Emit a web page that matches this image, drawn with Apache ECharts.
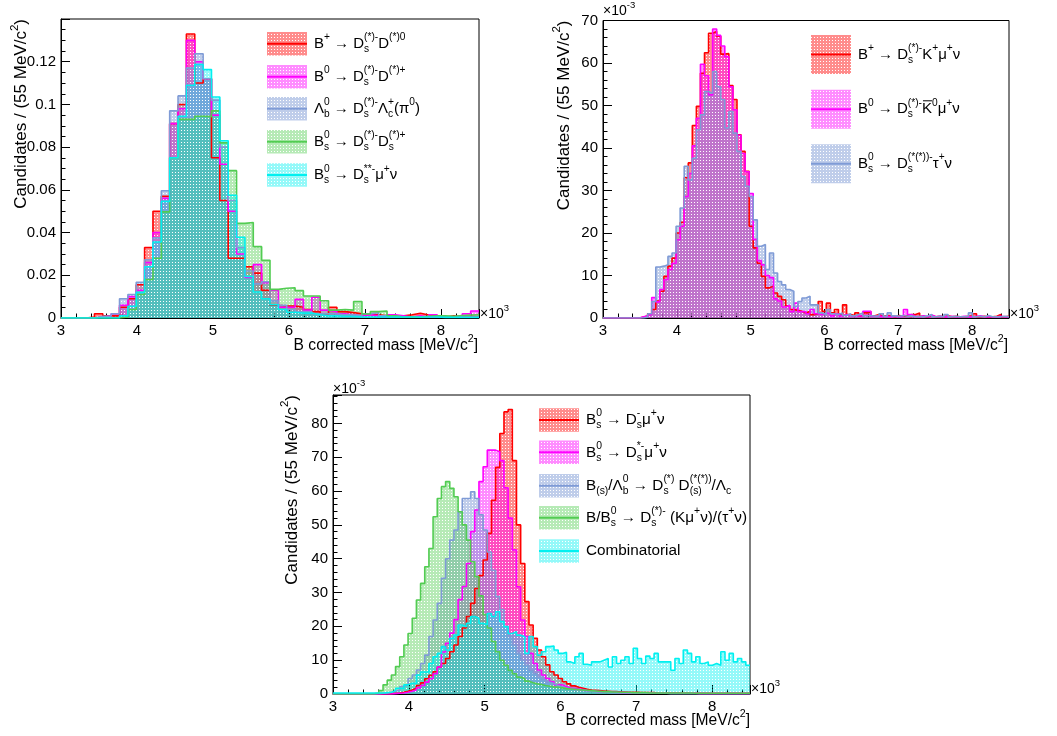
<!DOCTYPE html>
<html><head><meta charset="utf-8">
<script src="https://cdn.jsdelivr.net/npm/echarts@6/dist/echarts.min.js"></script>
<style>html,body{margin:0;padding:0;background:#fff}#c{width:1057px;height:736px}</style>
</head><body><div id="c"></div>
<script>
// ================= DATA =================
const binStart = 3000;          // MeV, lower edge of first bin
const binWidthP1 = 110;         // MeV (panel 1 binning)
const binWidthP2 = 55;          // MeV (panels 2 and 3 binning)
const xTickLabels = ['3','4','5','6','7','8'];

// Panel 1 (top left), values in candidates / bin (normalised)
const p1_BplusDsD0 = [0,0,0,0.0005,0.002,0.001,0.001,0.005,0.009,0.0156,
 0.033,0.050,0.057,0.091,0.100,0.133,0.110,0.112,0.075,0.055,
 0.028,0.028,0.024,0.021,0.013,0.006,0.0056,0.0056,0.005,0.004,
 0.003,0.002,0.005,0.003,0.0025,0.002,0.002,0.0015,0.001,0.001,
 0.001,0.0015,0.0022,0.0014,0.001,0.0005,0.001,0.0005,0.0008,0.0005];
const p1_B0DsDplus = [0,0,0,0,0.0005,0.001,0.002,0.006,0.010,0.013,
 0.026,0.040,0.056,0.091,0.098,0.130,0.120,0.112,0.095,0.072,
 0.050,0.030,0.019,0.025,0.0165,0.013,0.005,0.005,0.0087,0.0037,
 0.0097,0.0037,0.003,0.002,0.0015,0.001,0.0015,0.001,0.0005,0.0015,
 0.001,0.0005,0.001,0.0005,0.0015,0.0005,0.0005,0.001,0.002,0.0033];
const p1_LbDsLc = [0,0,0,0,0.0008,0.0008,0.002,0.009,0.011,0.0167,
 0.0273,0.0375,0.0596,0.097,0.104,0.117,0.1237,0.112,0.102,0.080,
 0.055,0.033,0.022,0.016,0.017,0.008,0.006,0.004,0.003,0.003,
 0.002,0.002,0.002,0.0015,0.0015,0.001,0.002,0.0025,0.001,0.001,
 0.0005,0.0005,0.0005,0.0005,0.0005,0.0005,0.0005,0.0005,0.0005,0.0005];
const p1_BsDsDs = [0,0,0,0,0,0,0,0.0005,0.004,0.011,
 0.018,0.028,0.0497,0.075,0.093,0.093,0.0945,0.0943,0.097,0.082,
 0.069,0.0443,0.0447,0.0334,0.027,0.0134,0.0139,0.0142,0.0128,0.0103,
 0.0103,0.0081,0.0037,0.004,0.0037,0.0077,0.0019,0.003,0.0033,0.001,
 0.0005,0.0005,0.0005,0.0008,0.001,0.001,0.0008,0.0012,0.0014,0.0015];
const p1_BsDssMuNu = [0,0,0,0,0,0,0,0.001,0.0055,0.012,
 0.024,0.0356,0.0546,0.075,0.0945,0.109,0.1187,0.1163,0.1035,0.083,
 0.0575,0.0378,0.0195,0.0122,0.009,0.0062,0.004,0.0027,0.0023,0.0023,
 0.0015,0.001,0.001,0.0008,0.0008,0.0005,0.0005,0.0005,0.0005,0.0005,
 0.0005,0.0005,0.0005,0.0005,0.0005,0.0003,0.0003,0.0003,0.0003,0.0003];

// Panel 2 (top right), values in units of 1e-3
const p2_BplusDsKMuNu = [0,0,0,0,0,0,0,0,0,0.2,
 0.5,1.0,2.0,4.0,6.3,9.8,12.2,14.1,20.0,22.5,
 33.0,36.5,45.3,49.8,57.6,62.4,67.0,67.4,66.3,62.1,
 62.2,54.7,51.4,43.1,39.2,34.5,21.6,16.5,12.9,9.8,
 7.1,7.5,5.9,5.1,4.3,2.9,2.0,1.8,1.6,1.2,
 1.6,0.8,1.0,3.9,1.6,3.5,1.2,2.0,0.8,3.1,
 0.8,0.6,1.2,0.5,1.2,1.5,0.5,0.8,0.4,0.6,
 0.5,0.3,0.6,0.4,0.5,0.3,0.8,1.2,0.4,0.3,
 0.6,0.3,0.4,0.3,0.5,0.3,0.4,0.3,0.3,0.4,
 0.5,1.0,0.3,0.4,0.3,0.3,0.4,0.8,0.3,0.4];
const p2_B0DsK0MuNu = [0,0,0,0,0,0,0,0,0,0.3,
 0.5,0.8,4.8,3.8,6.7,9.0,11.4,12.9,18.4,21.6,
 28.6,34.0,40.5,47.0,59.7,57.0,52.5,68.0,66.5,64.0,
 61.5,54.4,49.0,43.0,38.7,34.4,29.3,18.5,13.5,12.5,
 10.0,9.5,4.5,4.0,2.6,3.0,1.5,3.5,1.5,1.5,
 1.0,2.0,1.0,0.8,1.2,1.0,0.5,1.0,0.5,0.8,
 0.5,0.4,0.6,0.4,1.6,1.6,0.4,0.5,0.3,0.4,
 0.3,0.4,0.3,0.5,2.0,0.8,0.4,0.3,0.5,0.3,
 0.7,0.3,0.4,0.3,0.3,0.4,0.3,0.3,0.4,0.3,
 0.3,0.4,0.5,0.3,0.3,0.3,0.3,0.4,0.3,0.3];
const p2_BsDsTauNu = [0,0,0,0,0,0,0,0,0,0,
 0.2,1.0,3.9,12.0,12.2,12.5,14.5,15.3,21.6,25.9,
 35.7,32.5,37.6,44.3,47.8,53.3,52.9,58.0,54.4,51.4,
 44.7,48.6,43.5,39.2,33.3,31.0,28.6,23.1,16.9,17.3,
 11.4,15.3,10.6,8.6,7.8,6.7,6.3,2.7,3.9,4.7,
 5.1,3.1,3.1,1.2,0.8,2.0,1.0,0.8,1.2,0.6,
 1.0,0.5,0.8,1.2,0.5,0.6,0.4,0.5,1.0,0.4,
 1.2,0.5,0.4,0.6,0.4,0.5,0.3,0.4,0.3,0.5,
 0.8,0.3,0.4,0.3,0.8,0.3,0.4,0.3,0.3,0.4,
 1.2,0.3,0.4,0.3,0.6,0.3,0.3,0.3,0.4,0.3];

// Panel 3 (bottom), values in units of 1e-3
const p3_BsDsMuNu = [0,0,0,0,0,0,0,0,0,0, 0,0,0.1,0.1,0.2,0.3,0.5,0.8,1.2,1.7,
 2.5,3.3,4.5,5.5,6.6,8.0,9.0,10.5,12.5,14.5,
 17,19.5,22.9,26.8,31.2,35,39.6,47.5,57.3,67,
 77,83.4,84.1,69,50,38.6,27.3,20.4,16.5,13,
 11,8.6,6.6,5.6,4.6,3.6,3.0,2.4,2.0,1.7,
 1.4,1.2,1.1,1.0,0.9,0.8,0.7,0.7,0.6,0.6,
 0.5,0.5,0.5,0.4,0.4,0.4,0.4,0.3,0.3,0.3,
 0.3,0.3,0.3,0.3,0.3,0.2,0.2,0.2,0.2,0.2,
 0.2,0.2,0.2,0.2,0.2,0.2,0.2,0.2,0.2,0.2];
const p3_BsDsStarMuNu = [0,0,0,0,0,0,0,0,0,0, 0,0,0,0,0.1,0.2,0.3,0.5,0.8,1.2,
 1.8,2.5,3.5,4.5,6,8,12.4,15,18,22,
 27.9,31.8,38.6,48,54.4,62.8,67.2,72.1,72.1,71.6,
 69,61,52,42.6,31.7,21.9,17,12,9,7.1,
 5.6,4.6,3.6,2.7,2.7,2.2,1.7,1.7,1.5,1.3,
 1.0,0.9,0.8,0.7,0.6,0.6,0.5,0.5,0.4,0.4,
 0.4,0.3,0.3,0.3,0.3,0.3,0.2,0.2,0.2,0.2,
 0.2,0.2,0.2,0.2,0.2,0.2,0.2,0.1,0.1,0.1,
 0.1,0.1,0.1,0.1,0.1,0.1,0.1,0.1,0.1,0.1];
const p3_DoubleCharm = [0,0,0,0,0,0,0,0,0,0, 0.1,0.2,0.3,0.5,0.8,1.2,2.2,2.7,4.6,5.6,
 7.1,9,11.5,17,21.9,26.8,34.2,40,45.5,48.5,
 53.9,57.8,57.8,59.8,57.8,53,48.5,42,36.6,28.8,
 25,20,17,14.5,12,10,8.5,7,6,5,
 4.2,3.5,3.0,2.5,2.1,1.8,1.5,1.3,1.1,1.0,
 0.9,0.8,0.7,0.6,0.5,0.5,0.4,0.4,0.3,0.3,
 0.3,0.2,0.2,0.2,0.2,0.2,0.2,0.2,0.2,0.2,
 0.1,0.1,0.1,0.1,0.1,0.1,0.1,0.1,0.1,0.1,
 0.1,0.1,0.1,0.1,0.1,0.1,0.1,0.1,0.1,0.1];
const p3_SemiTauonicK = [0,0,0,0,0,0,0,0,0,0.1, 0.3,1.0,2.7,4.1,5.6,8.1,11,14.5,17.9,22.4,
 27.8,32.7,37.6,43,52.4,57.8,61.3,62.8,60.8,58.3,
 53.9,50,45.5,39.1,34.7,29,23.5,19.5,15.5,12.5,
 10,8.5,7,6,5,4.5,3.8,3.3,3.0,2.8,
 2.5,2.3,2.1,2.0,1.8,1.6,1.5,1.4,1.3,1.2,
 1.1,1.0,0.9,0.8,0.7,0.7,0.6,0.6,0.5,0.5,
 0.5,0.4,0.4,0.4,0.4,0.3,0.3,0.3,0.3,0.3,
 0.3,0.3,0.3,0.3,0.3,0.3,0.2,0.2,0.2,0.2,
 0.2,0.2,0.2,0.2,0.2,0.2,0.2,0.2,0.2,0.2];
const p3_Combinatorial = [0.3,0.3,0.3,0.3,0.3,0.3,0.3,0.3,0.3,0.3, 0.3,0.3,0.4,0.5,1.0,1.7,1.7,2.7,3.2,3.2,
 5.6,6.5,6.5,9,11,12,14,13,16.5,17.4,
 20.4,19.9,20.9,22.9,22.4,20.9,20.5,23.8,22.9,24.3,
 21.4,19.9,17.9,18.4,17.4,16.9,12,17,14,11.5,
 12.5,14,14.2,13,12,12.3,9.5,9.0,11,12,
 8.8,8.5,9.5,9.5,10,10.5,8,11,9,10,
 11,9,13.5,10.5,9,11.2,10.5,12,9.5,9.5,
 9.5,7.0,10.5,9,13,12,9.5,11,9,9.5,
 8.5,9,8.5,12.5,10,12,9.5,10.5,9.5,8.5];

// ================= STYLE / LAYOUT =================
const FONT = '"Liberation Sans", Arial, Helvetica, sans-serif';
// dotted (ROOT-like) fill pattern: coloured 3x3 cell with one white dot
function pattern(rgb, a){
  const c = document.createElement('canvas'); c.width = 3; c.height = 3;
  const x = c.getContext('2d');
  x.fillStyle = 'rgba(' + rgb + ',' + a + ')';
  x.fillRect(0,0,3,3); x.clearRect(1,1,1,1);
  return {image:c, repeat:'repeat'};
}
const COL = {
  red:{line:'#ff0000', fill:pattern('255,0,0',0.45)},
  mag:{line:'#ff00ff', fill:pattern('255,0,255',0.45)},
  blu:{line:'#7f9bd6', fill:pattern('127,155,214',0.5)},
  grn:{line:'#52cc52', fill:pattern('82,204,82',0.42)},
  cya:{line:'#00f0f0', fill:pattern('0,240,240',0.42)}
};
const grids = [
  {left:61, top:19, width:418, height:299},
  {left:603, top:20.5, width:406, height:297.5},
  {left:333, top:395, width:417, height:299}
];

const mctx = document.createElement('canvas').getContext('2d');
function tw(s, fs){ mctx.font = fs + 'px ' + FONT; return mctx.measureText(s).width; }
function T(s, x, y, fs){
  return {type:'text', x:x, y:y, silent:true,
    style:{text:s, fontSize:fs, fontFamily:FONT, fill:'#000',
      align:'left', verticalAlign:'middle', textAlign:'left', textVerticalAlign:'middle'}};
}
// rich text: strings, {sub,sup} stacked, {over:'K'} overlined
function rich(segs, fs, x, y, align, rotation){
  const small = fs*0.68, kids = [];
  let cx = 0;
  for (const s of segs){
    if (typeof s === 'string'){ kids.push(T(s, cx, 0, fs)); cx += tw(s, fs); }
    else if (s.over){
      kids.push(T(s.over, cx, 0, fs));
      const w = tw(s.over, fs);
      kids.push({type:'line', silent:true, shape:{x1:cx+1, y1:-fs*0.56, x2:cx+w, y2:-fs*0.56}, style:{stroke:'#000', lineWidth:1}});
      cx += w;
    } else {
      let w = 0;
      if (s.sub){ kids.push(T(s.sub, cx, fs*0.36, small)); w = Math.max(w, tw(s.sub, small)); }
      if (s.sup){ kids.push(T(s.sup, cx, -fs*0.42, small)); w = Math.max(w, tw(s.sup, small)); }
      cx += w;
    }
  }
  if (align === 'right') kids.forEach(k => { if (k.type==='line'){k.shape.x1-=cx;k.shape.x2-=cx;} else k.x -= cx; });
  return {type:'group', x:x, y:y, rotation:rotation||0, children:kids};
}
function legendRow(x, yc, h, c, tx, segs, fs){
  return [
    {type:'rect', silent:true, shape:{x:x, y:yc-h/2, width:40, height:h}, style:{fill:c.fill}},
    {type:'line', silent:true, shape:{x1:x, y1:yc, x2:x+40, y2:yc}, style:{stroke:c.line, lineWidth:2}},
    rich(segs, fs, tx, yc, 'left')
  ];
}

function hist(values, width){
  const pts = values.map((v,i) => [binStart + i*width, v]);
  pts.push([binStart + values.length*width, values[values.length-1]]);
  return pts;
}
function series(name, values, width, c, gi){
  return {type:'line', name:name, xAxisIndex:gi, yAxisIndex:gi, data:hist(values, width),
    step:'end', symbol:'none', showSymbol:false, silent:true, animation:false,
    lineStyle:{color:c.line, width:1.6}, itemStyle:{color:c.line},
    areaStyle:{color:c.fill, opacity:1}};
}
function xAxis(gi){
  return {gridIndex:gi, type:'value', min:3000, max:8500, interval:1000,
    axisLine:{onZero:false, lineStyle:{color:'#000', width:1}},
    axisTick:{inside:true, length:9, lineStyle:{color:'#000'}},
    minorTick:{show:true, splitNumber:5, length:4.5, lineStyle:{color:'#000'}},
    splitLine:{show:false}, minorSplitLine:{show:false},
    axisLabel:{color:'#000', fontSize:15, fontFamily:FONT, margin:5, showMaxLabel:false, showMinLabel:true,
      formatter: v => xTickLabels[Math.round((v-3000)/1000)] || ''}};
}
function yAxis(gi, max, interval, minorSplit, fmt, showMax){
  return {gridIndex:gi, type:'value', min:0, max:max, interval:interval,
    axisLine:{show:true, onZero:false, lineStyle:{color:'#000', width:1}},
    axisTick:{show:true, inside:true, length:9, lineStyle:{color:'#000'}},
    minorTick:{show:true, splitNumber:minorSplit, length:4.5, lineStyle:{color:'#000'}},
    splitLine:{show:false}, minorSplitLine:{show:false},
    axisLabel:{color:'#000', fontSize:15, fontFamily:FONT, margin:5, showMaxLabel:showMax, showMinLabel:true, formatter:fmt}};
}

const yTitle = ['Candidates / (55 MeV/c',{sup:'2'},')'];
const xTitle = ['B corrected mass [MeV/c',{sup:'2'},']'];
const e3 = ['×10',{sup:'3'}];
const em3 = ['×10',{sup:'-3'}];
const ARW = ' \u2192 ';

const g = [];
g.push(rich(yTitle, 17, 21.5, 19, 'right', Math.PI/2));
g.push(rich(yTitle, 17, 564, 20.5, 'right', Math.PI/2));
g.push(rich(yTitle, 17, 292, 395, 'right', Math.PI/2));
g.push(rich(xTitle, 15.6, 478, 346, 'right'));
g.push(rich(xTitle, 15.6, 1008, 346, 'right'));
g.push(rich(xTitle, 15.6, 750, 721, 'right'));
g.push(rich(e3, 14, 480, 314, 'left'));
g.push(rich(e3, 14, 1010, 314, 'left'));
g.push(rich(e3, 14, 751, 689, 'left'));
g.push(rich(em3, 14, 603, 11.5, 'left'));
g.push(rich(em3, 14, 333, 389, 'left'));

// legends panel 1
const L1 = [
  [COL.red, ['B',{sup:'+'},ARW+'D',{sub:'s',sup:'(*)-'},'D',{sup:'(*)0'}]],
  [COL.mag, ['B',{sup:'0'},ARW+'D',{sub:'s',sup:'(*)-'},'D',{sup:'(*)+'}]],
  [COL.blu, ['Λ',{sub:'b',sup:'0'},ARW+'D',{sub:'s',sup:'(*)-'},'Λ',{sub:'c',sup:'+'},'(π',{sup:'0'},')']],
  [COL.grn, ['B',{sub:'s',sup:'0'},ARW+'D',{sub:'s',sup:'(*)-'},'D',{sub:'s',sup:'(*)+'}]],
  [COL.cya, ['B',{sub:'s',sup:'0'},ARW+'D',{sub:'s',sup:'**-'},'μ',{sup:'+'},'ν']]
];
[43.7,76.7,108.8,141.7,175].forEach((yc,i)=>g.push(...legendRow(267, yc, 23.5, L1[i][0], 314, L1[i][1], 15)));
// legends panel 2
const L2 = [
  [COL.red, ['B',{sup:'+'},ARW+'D',{sub:'s',sup:'(*)-'},'K',{sup:'+'},'μ',{sup:'+'},'ν']],
  [COL.mag, ['B',{sup:'0'},ARW+'D',{sub:'s',sup:'(*)-'},{over:'K'},{sup:'0'},'μ',{sup:'+'},'ν']],
  [COL.blu, ['B',{sub:'s',sup:'0'},ARW+'D',{sub:'s',sup:'(*(*))-'},'τ',{sup:'+'},'ν']]
];
[54.5,109.2,163.8].forEach((yc,i)=>g.push(...legendRow(811, yc, 39, L2[i][0], 858, L2[i][1], 15)));
// legends panel 3
const L3 = [
  [COL.red, ['B',{sub:'s',sup:'0'},ARW+'D',{sub:'s',sup:'-'},'μ',{sup:'+'},'ν']],
  [COL.mag, ['B',{sub:'s',sup:'0'},ARW+'D',{sub:'s',sup:'*-'},'μ',{sup:'+'},'ν']],
  [COL.blu, ['B',{sub:'(s)'},'/Λ',{sub:'b',sup:'0'},ARW+'D',{sub:'s',sup:'(*)'},' D',{sub:'(s)',sup:'(*(*))'},'/Λ',{sub:'c'}]],
  [COL.grn, ['B/B',{sub:'s',sup:'0'},ARW+'D',{sub:'s',sup:'(*)-'},' (Kμ',{sup:'+'},'ν)/(τ',{sup:'+'},'ν)']],
  [COL.cya, ['Combinatorial']]
];
[420,452.3,485.7,517.7,551].forEach((yc,i)=>g.push(...legendRow(539, yc, 23.5, L3[i][0], 586, L3[i][1], 15.3)));

const fmt1 = v => v === 0 ? '0' : String(+v.toFixed(3));
const fmtI = v => String(Math.round(v));

const option = {
  animation:false,
  backgroundColor:'#fff',
  textStyle:{fontFamily:FONT},
  grid: grids.map(gr => Object.assign({show:true, borderColor:'#000', borderWidth:1, backgroundColor:'rgba(0,0,0,0)', containLabel:false, outerBoundsMode:'none'}, gr)),
  xAxis:[xAxis(0), xAxis(1), xAxis(2)],
  yAxis:[yAxis(0, 0.14, 0.02, 4, fmt1, false), yAxis(1, 70, 10, 5, fmtI, true), yAxis(2, 88.4, 10, 5, fmtI, false)],
  series:[
    series('B+ -> Ds D0', p1_BplusDsD0, binWidthP1, COL.red, 0),
    series('B0 -> Ds D+', p1_B0DsDplus, binWidthP1, COL.mag, 0),
    series('Lb -> Ds Lc', p1_LbDsLc, binWidthP1, COL.blu, 0),
    series('Bs -> Ds Ds', p1_BsDsDs, binWidthP1, COL.grn, 0),
    series('Bs -> Ds** mu nu', p1_BsDssMuNu, binWidthP1, COL.cya, 0),
    series('B+ -> Ds K+ mu nu', p2_BplusDsKMuNu, binWidthP2, COL.red, 1),
    series('B0 -> Ds K0 mu nu', p2_B0DsK0MuNu, binWidthP2, COL.mag, 1),
    series('Bs -> Ds tau nu', p2_BsDsTauNu, binWidthP2, COL.blu, 1),
    series('Bs -> Ds mu nu', p3_BsDsMuNu, binWidthP2, COL.red, 2),
    series('Bs -> Ds* mu nu', p3_BsDsStarMuNu, binWidthP2, COL.mag, 2),
    series('double charm', p3_DoubleCharm, binWidthP2, COL.blu, 2),
    series('semi-tauonic / K', p3_SemiTauonicK, binWidthP2, COL.grn, 2),
    series('Combinatorial', p3_Combinatorial, binWidthP2, COL.cya, 2)
  ],
  graphic:{elements:g}
};
const chart = echarts.init(document.getElementById('c'), null, {renderer:'canvas'});
chart.setOption(option);
</script>
</body></html>
